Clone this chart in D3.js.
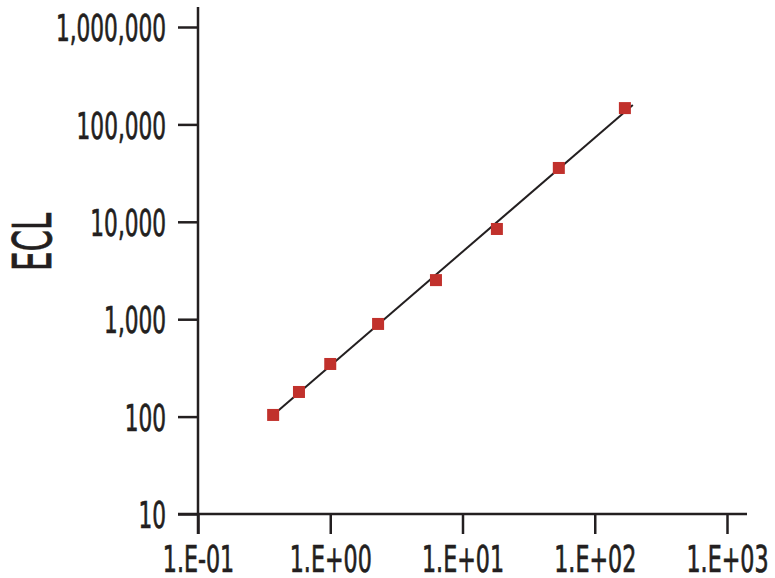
<!DOCTYPE html>
<html>
<head>
<meta charset="utf-8">
<script src="https://cdn.jsdelivr.net/npm/d3@7"></script>
<style>
  body { margin: 0; background: #fff; }
  text { font-family: "Liberation Sans Narrow", "DejaVu Sans Condensed", sans-serif; fill: #231f20; }
</style>
</head>
<body>
<svg id="chart" width="775" height="578"></svg>
<script>
// data
const xTicks = [0.1, 1, 10, 100, 1000];
const xTickLabels = ['1.E-01', '1.E+00', '1.E+01', '1.E+02', '1.E+03'];
const yTicks = [10, 100, 1000, 10000, 100000, 1000000];
const yTickLabels = ['10', '100', '1,000', '10,000', '100,000', '1,000,000'];
const xValues = [0.37, 0.58, 1.0, 2.3, 6.3, 18.2, 53.5, 169];
const yValues = [104, 179, 347, 894, 2520, 8440, 35700, 147000];
const fitX = [0.37, 194];
const fitY = [104, 158000];

const ink = '#231f20';
const red = '#c1312c';
const font = '"Liberation Sans Narrow", "DejaVu Sans Condensed", sans-serif';
const svg = d3.select('#chart');
const margin = {left: 198, right: 48, top: 27, bottom: 64};
const w = 775, h = 578;
const ext = 20; // axis lines run on past the end ticks

const x = d3.scaleLog().domain([0.1, 1000]).range([margin.left, w - margin.right]);
const y = d3.scaleLog().domain([10, 1e6]).range([h - margin.bottom, margin.top]);

// squeeze text nodes horizontally (one factor per group) to mimic a condensed face
function squeeze(sel, refIndex, refWidth) {
  const nodes = sel.nodes();
  const k = refWidth / nodes[refIndex].getComputedTextLength();
  sel.each(function () {
    const len = this.getComputedTextLength();
    d3.select(this).attr('textLength', len * k).attr('lengthAdjust', 'spacingAndGlyphs');
  });
}

const xAxis = svg.append('g')
  .attr('transform', `translate(0,${y.range()[0]})`)
  .call(d3.axisBottom(x).tickValues(xTicks).tickSize(ext).tickSizeOuter(0)
    .tickFormat((d, i) => xTickLabels[i]));
xAxis.select('.domain').remove();
xAxis.selectAll('line').attr('stroke', ink).attr('stroke-width', 2.5);
xAxis.selectAll('text').attr('font-size', 38).attr('dy', 0).attr('y', 58)
  .attr('font-family', font).attr('fill', ink)
  .attr('stroke', ink).attr('stroke-width', 0.7)
  .call(squeeze, 2, 82);

const yAxis = svg.append('g')
  .attr('transform', `translate(${x.range()[0]},0)`)
  .call(d3.axisLeft(y).tickValues(yTicks).tickSize(ext).tickSizeOuter(0)
    .tickFormat((d, i) => yTickLabels[i]));
yAxis.select('.domain').remove();
yAxis.selectAll('line').attr('stroke', ink).attr('stroke-width', 2.5);
yAxis.selectAll('text').attr('font-size', 38).attr('x', -32).attr('dy', '0.36em')
  .attr('font-family', font).attr('fill', ink)
  .attr('stroke', ink).attr('stroke-width', 0.7)
  .call(squeeze, 5, 110);

// axis lines
svg.append('line')
  .attr('x1', x.range()[0] - ext).attr('x2', x.range()[1] + ext)
  .attr('y1', y.range()[0]).attr('y2', y.range()[0])
  .attr('stroke', ink).attr('stroke-width', 2.5);
svg.append('line')
  .attr('x1', x.range()[0]).attr('x2', x.range()[0])
  .attr('y1', y.range()[1] - ext).attr('y2', y.range()[0] + ext)
  .attr('stroke', ink).attr('stroke-width', 2.5);

// trend line
const line = d3.line().x(d => x(d[0])).y(d => y(d[1]));
svg.append('path')
  .datum(d3.zip(fitX, fitY))
  .attr('d', line)
  .attr('fill', 'none').attr('stroke', ink).attr('stroke-width', 2);

// markers
const s = 12;
svg.append('g').selectAll('rect')
  .data(d3.zip(xValues, yValues))
  .enter().append('rect')
  .attr('x', d => x(d[0]) - s / 2).attr('y', d => y(d[1]) - s / 2)
  .attr('width', s).attr('height', s)
  .attr('fill', red);

// y title
svg.append('text')
  .attr('transform', `translate(51,242) rotate(-90)`)
  .attr('text-anchor', 'middle')
  .attr('font-size', 54)
  .attr('stroke', ink).attr('stroke-width', 0.8)
  .text('ECL')
  .call(squeeze, 0, 58);
</script>
</body>
</html>
